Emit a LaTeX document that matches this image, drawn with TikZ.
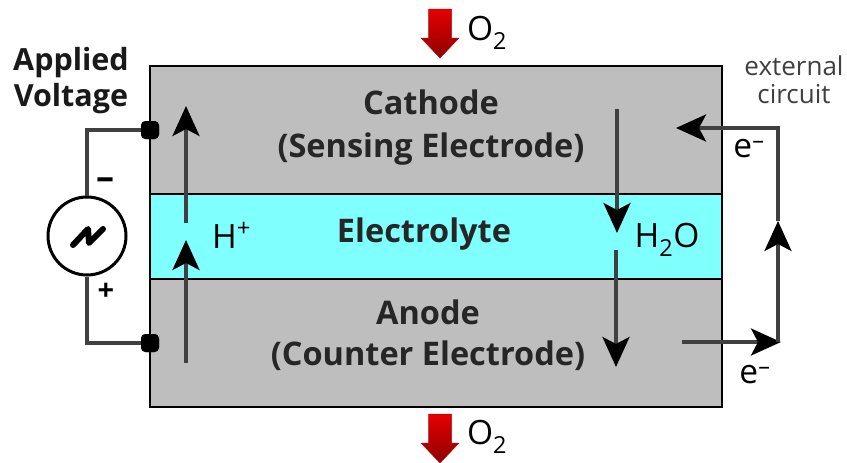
\documentclass[tikz,border=0pt]{standalone}
\usepackage{fontspec}
\setmainfont{Open Sans}
\usetikzlibrary{arrows.meta}
\definecolor{platebg}{HTML}{BEBEBE}
\definecolor{elecbg}{HTML}{80FFFF}
\definecolor{wirec}{HTML}{404040}
\definecolor{redc}{HTML}{B01010}
\tikzset{
  x=1pt,y=-1pt,
  plate/.style={draw=black,line width=2pt,fill=#1,minimum width=572.5pt,inner sep=0pt,outer sep=0pt},
  wire/.style={draw=wirec,line width=3.5pt},
  flow/.style={draw=wirec,line width=3.5pt,-{Stealth[length=30pt,width=27pt,inset=7pt,color=black]}},
  term/.style={fill=black,rounded corners=4.5pt,minimum size=18pt,inner sep=0pt},
  chem/.style={font=\fontsize{33.5}{36}\selectfont,text=black,inner sep=0pt},
  body/.style={font=\fontsize{32.5}{43}\selectfont\bfseries,align=center,text=black!85,inner sep=0pt},
  head/.style={font=\fontsize{30.5}{36}\selectfont\bfseries,align=center,inner sep=0pt,text=black!90},
  small/.style={font=\fontsize{26}{28}\selectfont,text=black!75,align=center,inner sep=0pt},
  sign/.style={font=\fontsize{29}{30}\selectfont\bfseries,inner sep=0pt},
  redarrow/.style={draw=redc,line width=.5pt,top color=red!90!black,bottom color=red!55!black}
}
\newcommand{\redarrowat}[2]{%
  \path[redarrow] (#1-11.5,#2-24) -- (#1+11.5,#2-24) -- (#1+11.5,#2+5) -- (#1+19,#2+5) -- (#1,#2+25)
    -- (#1-19,#2+5) -- (#1-11.5,#2+5) -- cycle;}
\begin{document}
\begin{tikzpicture}
\useasboundingbox (0,0) rectangle (847,463);
% plates
\node[plate=platebg,minimum height=129pt] (cath) at (435.75,130) {};
\node[plate=platebg,minimum height=129pt] (anod) at (435.75,342.5) {};
\node[plate=elecbg,minimum height=85pt] (elyt) at (435.75,236) {};
% texts
\node[body] (cathl) at (431,127.5) {Cathode\\(Sensing Electrode)};
\node[body] (anodl) at (428,335) {Anode\\[-2pt](Counter Electrode)};
\node[body] (elytl) at (424,234) {Electrolyte};
\node[head] (appl) at (71,81) {Applied\\Voltage};
\node[small] (ext) at (794,79.5) {external\\circuit};
% O2 arrows
\redarrowat{440}{33}
\redarrowat{440}{438}
\node[chem] (o2tl) at (487,33) {O\textsubscript{2}};
\node[chem] (o2bl) at (487,437) {O\textsubscript{2}};
% source
\node[circle,draw=black,line width=3pt,fill=white,minimum size=78pt,inner sep=0pt] (src) at (87,236) {};
\node[term] (t1) at (150,130) {};
\node[term] (t2) at (150,343) {};
\coordinate (c1) at (87,130);
\coordinate (c2) at (87,343);
\draw[wire] (t1.center) -- (c1) -- (src.north);
\draw[wire] (t2.center) -- (c2) -- (src.south);
\node[term] (t1top) at (t1) {};
\node[term] (t2top) at (t2) {};
\draw[line width=6pt,black,line join=round,line cap=round] (73,245) -- (88,229) -- (89,243) -- (103,229);
\node[sign,font=\fontsize{36}{36}\selectfont\bfseries] (minus) at (105,184) {–};
\node[sign] (plus) at (106,292) {+};
% H+
\coordinate (h1a) at (186,223);
\coordinate (h1b) at (186,106);
\coordinate (h2a) at (186,363);
\coordinate (h2b) at (186,240);
\draw[flow] (h1a) -- (h1b);
\draw[flow] (h2a) -- (h2b);
\node[chem,anchor=west] (hl) at (212,235) {H\raisebox{12pt}{\fontsize{24}{24}\selectfont +}};
% water
\coordinate (w1a) at (617,109);
\coordinate (w1b) at (617,233);
\coordinate (w2a) at (616,250);
\coordinate (w2b) at (616,367);
\draw[flow] (w1a) -- (w1b);
\draw[flow] (w2a) -- (w2b);
\node[chem] (wl) at (667,240) {H\textsubscript{2}O};
% external circuit
\coordinate (e1) at (682,342);
\coordinate (e2) at (781,342);
\coordinate (e3) at (778,342);
\coordinate (e4) at (778,221);
\coordinate (e5) at (778,128);
\coordinate (e6) at (676,128);
\draw[flow] (e1) -- (e2);
\draw[flow] (e3) -- (e4);
\draw[flow,line join=miter] (e4) -- (e5) -- (e6);
\node[chem] (el1) at (749,149) {e\textsuperscript{–}};
\node[chem] (el2) at (755,375) {e\textsuperscript{–}};
\end{tikzpicture}
\end{document}
